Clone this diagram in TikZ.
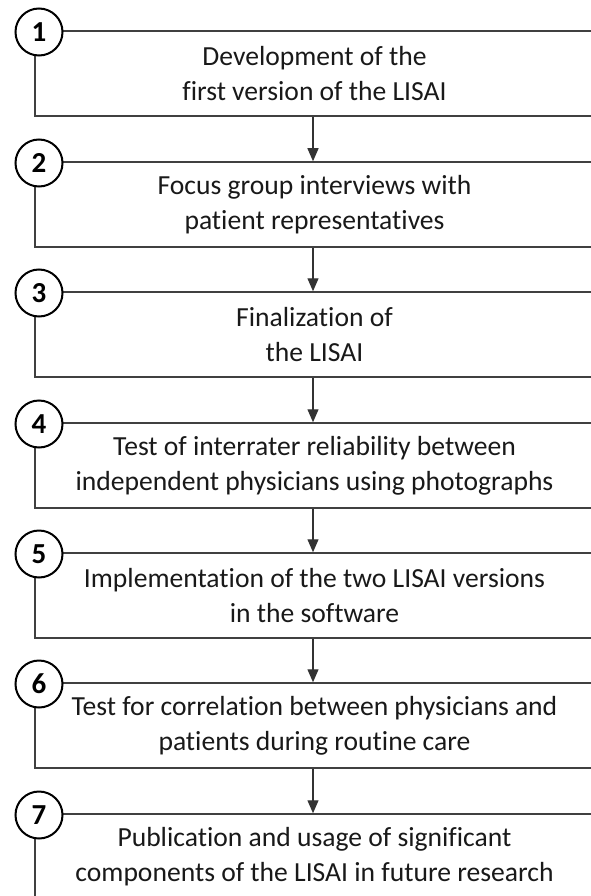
\documentclass[tikz,border=0pt]{standalone}
\usepackage{fontspec}
\setmainfont{Carlito}[Ligatures={NoCommon,NoRequired,NoContextual}]
\usetikzlibrary{arrows.meta}
\begin{document}
\begin{tikzpicture}[x=1pt,y=-1pt,
  stepbox/.style={draw=black!75,line width=1.5pt,minimum width=559pt,minimum height=85pt,inner sep=0pt,align=center,font=\fontsize{27.6pt}{35pt}\selectfont,text=black!90},
  numcirc/.style={circle,draw=black,line width=2pt,fill=white,minimum size=47pt,inner sep=0pt,font=\fontsize{29pt}{29pt}\selectfont\bfseries},
  arr/.style={draw=black!80,line width=1.3pt,-{Triangle[length=13pt,width=11pt]}}]
\useasboundingbox[fill=white] (0,0) rectangle (590,896);
\foreach \i/\t/\txt in {1/31/{Development of the\\first version of the LISAI},
  2/162/{Focus group interviews with\\patient representatives},
  3/292/{Finalization of\\the LISAI},
  4/423/{Test of interrater reliability between\\independent physicians using photographs},
  5/553/{Implementation of the two LISAI versions\\in the software},
  6/683/{Test for correlation between physicians and\\patients during routine care},
  7/814/{Publication and usage of significant\\components of the LISAI in future research}}{
  \node[stepbox] (b\i) at (314.5,\t+42.5) {\raisebox{-7pt}{\parbox{559pt}{\centering\txt}}};
  \node[numcirc] (c\i) at (39,\t+1) {\i};
}
\foreach \a/\b in {1/2,2/3,3/4,4/5,5/6,6/7}{
  \draw[arr] ([xshift=-1.5pt]b\a.south) -- ([xshift=-1.5pt]b\b.north);
}
\end{tikzpicture}
\end{document}
